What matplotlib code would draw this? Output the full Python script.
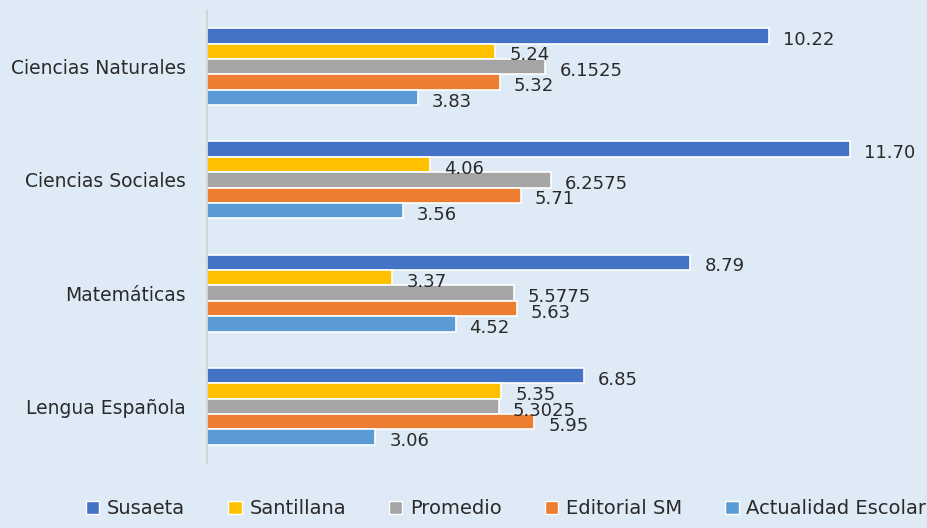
import numpy as np
import matplotlib.pyplot as plt
from matplotlib.patches import Patch

categories = ['Ciencias Naturales', 'Ciencias Sociales', 'Matemáticas', 'Lengua Española']
series = ['Susaeta', 'Santillana', 'Promedio', 'Editorial SM', 'Actualidad Escolar']
colors = ['#4472C4', '#FFC000', '#A5A5A5', '#ED7D31', '#5B9BD5']

susaeta = [10.22, 11.70, 8.79, 6.85]
santillana = [5.24, 4.06, 3.37, 5.35]
promedio = [6.1525, 6.2575, 5.5775, 5.3025]
editorial_sm = [5.32, 5.71, 5.63, 5.95]
actualidad = [3.83, 3.56, 4.52, 3.06]

data = [susaeta, santillana, promedio, editorial_sm, actualidad]
bg = '#deeaf6'

plt.rcParams['font.family'] = ['DejaVu Sans']

fig = plt.figure(figsize=(9.27, 5.28), dpi=100, facecolor=bg)
ax = fig.add_axes([207/927, 65/528, 720/927, 453/528])
ax.set_facecolor(bg)

y = np.arange(len(categories))
h = 0.136

def fmt(v):
    if abs(round(v, 2) - v) < 1e-9:
        return f'{v:.2f}'
    return f'{v:.4f}'

for j, (vals, c) in enumerate(zip(data, colors)):
    pos = y + (j - 2) * h
    ax.barh(pos, vals, height=h, color=c, edgecolor='white', linewidth=1.2)
    for p, v in zip(pos, vals):
        ax.annotate(fmt(v), (v, p), xytext=(10, -3), textcoords='offset points',
                    va='center', ha='left', fontsize=13, color='#2a2a2a')

ax.set_xlim(0, 720/55)
ax.set_ylim(3.5, -0.5)
ax.set_yticks(y)
ax.set_yticklabels(categories, fontsize=13.5, color='#2a2a2a')
ax.tick_params(axis='y', length=0, pad=15)
ax.set_xticks([])
for s in ['top', 'right', 'bottom']:
    ax.spines[s].set_visible(False)
ax.spines['left'].set_color('#d0d0d0')
ax.spines['left'].set_linewidth(1.2)

handles = [Patch(facecolor=c, edgecolor='white', label=s) for s, c in zip(series, colors)]
fig.legend(handles=handles, loc='lower center', bbox_to_anchor=(0.546, -0.015), ncol=5,
           frameon=False, fontsize=14, handlelength=0.7, handleheight=0.7,
           handletextpad=0.4, columnspacing=2.2, labelcolor='#2a2a2a')

fig.savefig('out.png', dpi=100, facecolor=bg)
